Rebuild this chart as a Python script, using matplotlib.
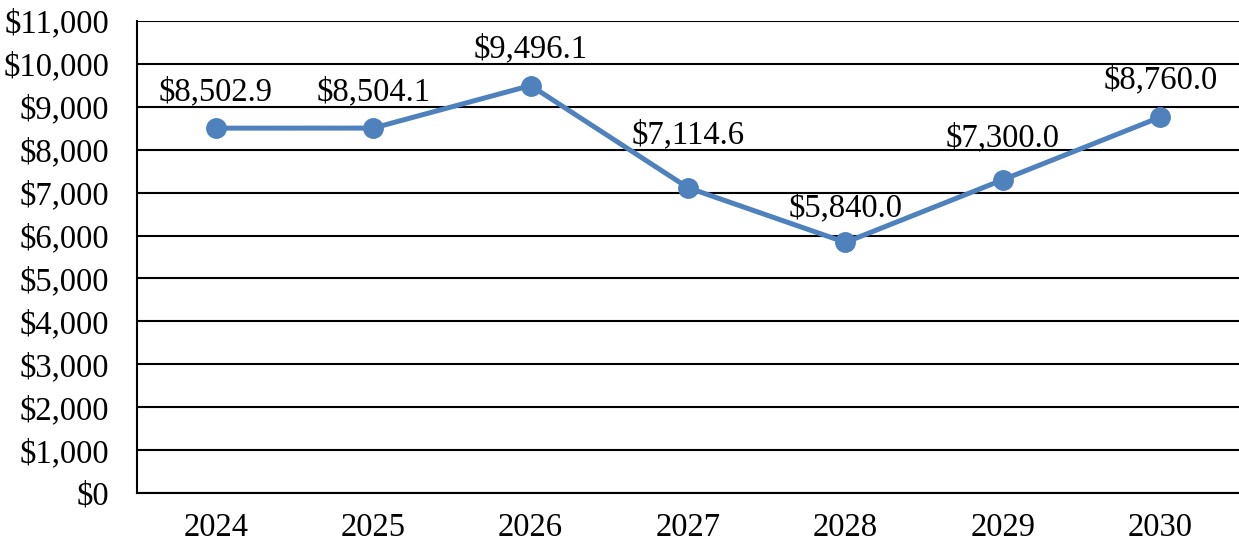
import numpy as np
import matplotlib.pyplot as plt

years = ['2024', '2025', '2026', '2027', '2028', '2029', '2030']
values = [8502.9, 8504.1, 9496.1, 7114.6, 5840.0, 7300.0, 8760.0]

plt.rcParams['font.family'] = ['Liberation Serif', 'DejaVu Serif']

fig = plt.figure(figsize=(12.39, 5.48), dpi=100)
ax = fig.add_axes([137/1239, 1 - 493/548, 1 - 137/1239, (493 - 21)/548])

x = np.arange(len(years))
ax.plot(x, values, color='#4F81BD', lw=3.6, marker='o', markersize=14, zorder=3)

# label lift above each point, in points (Excel nudged a couple of them)
lift = [20, 20, 20, 32, 19, 24, 21]
for xi, v, dy in zip(x, values, lift):
    ax.annotate(f'${v:,.1f}', (xi, v), xytext=(0, dy), textcoords='offset points',
                ha='center', va='baseline', fontsize=23.5, color='black')

ax.set_xlim(-0.5, len(years) - 0.5)
ax.set_ylim(0, 11000)
ax.set_yticks(np.arange(0, 11001, 1000))
ax.set_yticklabels([f'${t:,.0f}' for t in np.arange(0, 11001, 1000)])
ax.set_xticks(x)
ax.set_xticklabels(years)
ax.tick_params(length=0, labelsize=23.5)
ax.tick_params(axis='y', pad=20)
ax.tick_params(axis='x', pad=14)
ax.grid(axis='y', color='black', lw=1.5)
ax.set_axisbelow(True)
for s in ['top', 'right']:
    ax.spines[s].set_visible(False)
ax.spines['left'].set_linewidth(1.5)
ax.spines['bottom'].set_linewidth(1.5)

fig.savefig('out.png', dpi=100)
